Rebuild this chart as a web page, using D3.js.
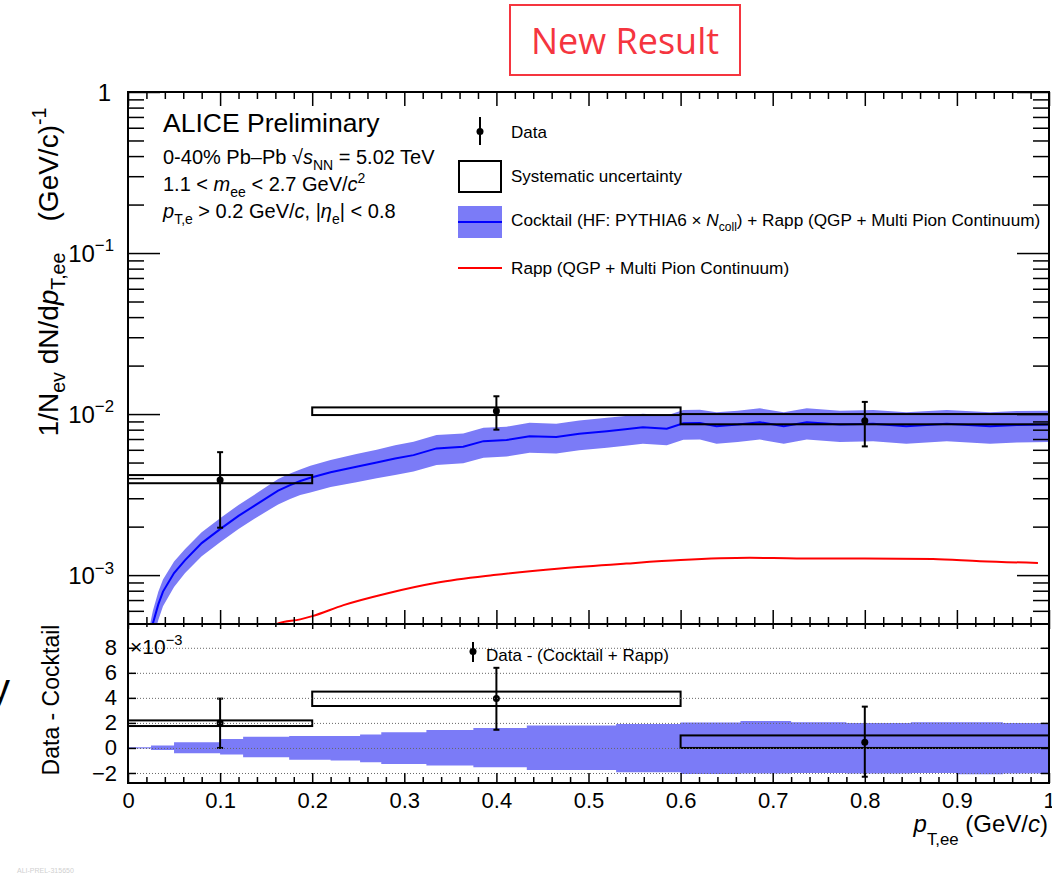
<!DOCTYPE html>
<html><head><meta charset="utf-8">
<script src="https://cdn.jsdelivr.net/npm/d3@7"></script>
<style>body{margin:0;background:#fff;} svg{display:block;}</style>
</head><body>
<script>
// ---------------- DATA ----------------
const xTickMajor = [0,0.1,0.2,0.3,0.4,0.5,0.6,0.7,0.8,0.9,1];
const yTopMajor = [1e-3,1e-2,1e-1,1];
const yTopLabels = [["10","−3"],["10","−2"],["10","−1"],["1",""]];
const yBotMajor = [-2,0,2,4,6,8];
const yBotLabels = ["−2","0","2","4","6","8"];

// Data (top panel)
const dataX = [0.1, 0.4, 0.8];
const dataY = [3.9e-3, 1.045e-2, 9.1e-3];
const dataErrLo = [1.97e-3, 8.0e-3, 6.3e-3];
const dataErrHi = [5.8e-3, 1.29e-2, 1.19e-2];
const sysXLo = [0.0, 0.2, 0.6];
const sysXHi = [0.2, 0.6, 1.0];
const sysYLo = [3.72e-3, 9.86e-3, 8.64e-3];
const sysYHi = [4.18e-3, 1.10e-2, 1.0e-2];

// Cocktail + Rapp
const cocktailX = [0.020,0.027,0.033,0.038,0.05,0.062,0.08,0.1,0.12,0.14,0.163,0.176,0.187,0.198,0.22,0.248,0.27,0.29,0.31,0.335,0.364,0.386,0.411,0.436,0.465,0.49,0.52,0.54,0.559,0.585,0.603,0.621,0.639,0.662,0.686,0.712,0.737,0.773,0.809,0.845,0.889,0.936,0.965,1.0];
const cocktailY = [3.2e-4,5.0e-4,6.6e-4,7.9e-4,1.03e-3,1.24e-3,1.58e-3,1.93e-3,2.33e-3,2.76e-3,3.35e-3,3.62e-3,3.84e-3,4.02e-3,4.35e-3,4.71e-3,5.0e-3,5.3e-3,5.56e-3,6.12e-3,6.26e-3,6.79e-3,6.9e-3,7.29e-3,7.2e-3,7.55e-3,7.83e-3,8.05e-3,8.29e-3,8.1e-3,8.77e-3,8.8e-3,8.4e-3,8.6e-3,8.9e-3,8.4e-3,8.9e-3,8.6e-3,8.7e-3,8.4e-3,8.7e-3,8.4e-3,8.55e-3,8.6e-3];
const cocktailRelErr = [0.2,0.2,0.2,0.19,0.18,0.17,0.17,0.17,0.17,0.17,0.18,0.18,0.18,0.19,0.19,0.2,0.2,0.21,0.21,0.21,0.21,0.21,0.21,0.21,0.21,0.21,0.21,0.21,0.21,0.21,0.21,0.21,0.22,0.22,0.22,0.22,0.22,0.22,0.22,0.22,0.22,0.22,0.22,0.22];

// Rapp (QGP + Multi Pion Continuum)
const rappX = [0.15,0.163,0.187,0.2,0.234,0.281,0.335,0.397,0.469,0.541,0.6,0.675,0.726,0.8,0.874,0.925,0.988];
const rappY = [4.6e-4,5.01e-4,5.31e-4,5.56e-4,6.51e-4,7.69e-4,8.96e-4,1.0e-3,1.10e-3,1.18e-3,1.24e-3,1.28e-3,1.27e-3,1.27e-3,1.26e-3,1.22e-3,1.19e-3];

// Bottom panel (units of 10^-3)
const diffY = [2.0, 3.95, 0.45];
const diffErrLo = [0.0, 1.45, -2.3];
const diffErrHi = [3.94, 6.4, 3.3];
const diffSysLo = [1.75, 3.35, 0.0];
const diffSysHi = [2.2, 4.5, 1.0];
const bandEdges = [0,0.025,0.05,0.1,0.125,0.175,0.22,0.252,0.275,0.324,0.375,0.433,0.53,0.6,0.665,0.72,0.78,0.85,0.9,0.95,1.0];
const bandUp   = [0.05,0.19,0.45,0.72,0.9,0.95,0.95,1.07,1.25,1.44,1.6,1.79,1.92,2.03,2.15,2.05,2.0,2.05,2.05,2.0];
const bandDown = [0.05,0.16,0.43,0.53,0.75,0.95,1.0,1.15,1.28,1.41,1.55,1.76,1.95,2.08,2.05,2.0,2.05,2.0,2.1,2.05];

// ---------------- SETUP ----------------
const W = 1052, H = 874;
const L = 128, R = 1049, T1 = 92, B1 = 624, B2 = 783;
const BAND = "#7b7bf7", BLUE = "#0000ff", RED = "#ff0000";
const svg = d3.select("body").append("svg").attr("width", W).attr("height", H)
  .style("font-family", '"Liberation Sans", Arial, Helvetica, sans-serif');
svg.append("rect").attr("width", W).attr("height", H).attr("fill", "#fff");

const x = d3.scaleLinear().domain([0, 1]).range([L, R]);
const yTop = d3.scaleLog().domain([4.97e-4, 1]).range([B1, T1]);
const yBot = d3.scaleLinear().domain([-2.8, 9.9]).range([B2, B1]);

function richText(g, px, py, parts, size, anchor, subF) {
  subF = subF || 0.3;
  const t = g.append("text").attr("x", px).attr("y", py).attr("font-size", size)
    .attr("text-anchor", anchor || "start").attr("fill", "#000");
  let shift = 0;
  parts.forEach(p => {
    const s = t.append("tspan").text(p.t);
    const target = p.sub ? size * subF : (p.sup ? -size * 0.42 : 0);
    if (target - shift !== 0) s.attr("dy", target - shift);
    shift = target;
    if (p.sub || p.sup) s.attr("font-size", size * 0.7);
    if (p.i) s.attr("font-style", "italic");
  });
  return t;
}

// ---------------- NEW RESULT ----------------
svg.append("rect").attr("x", 510).attr("y", 5).attr("width", 230).attr("height", 70)
  .attr("fill", "none").attr("stroke", "#f5353f").attr("stroke-width", 2);
svg.append("text").attr("x", 625).attr("y", 54).attr("text-anchor", "middle")
  .attr("font-family", '"Open Sans", sans-serif').attr("font-size", 36).attr("fill", "#f5353f")
  .text("New Result");

// ---------------- TOP PANEL ----------------
const defs = svg.append("defs");
defs.append("clipPath").attr("id", "clipTop").append("rect").attr("x", L).attr("y", T1).attr("width", R - L).attr("height", B1 - T1);
defs.append("clipPath").attr("id", "clipBot").append("rect").attr("x", L).attr("y", B1).attr("width", R - L).attr("height", B2 - B1);

const topG = svg.append("g");
const topC = topG.append("g").attr("clip-path", "url(#clipTop)");
const cocktail = cocktailX.map((v, i) => ({ x: v, y: cocktailY[i], e: cocktailRelErr[i] }));
topC.append("path").datum(cocktail)
  .attr("d", d3.area().x(d => x(d.x)).y0(d => yTop(d.y * (1 - d.e))).y1(d => yTop(d.y * (1 + d.e))))
  .attr("fill", BAND);
topC.append("path").datum(cocktail)
  .attr("d", d3.line().x(d => x(d.x)).y(d => yTop(d.y)))
  .attr("fill", "none").attr("stroke", BLUE).attr("stroke-width", 2);
const rapp = rappX.map((v, i) => ({ x: v, y: rappY[i] }));
topC.append("path").datum(rapp)
  .attr("d", d3.line().x(d => x(d.x)).y(d => yTop(d.y)).curve(d3.curveMonotoneX))
  .attr("fill", "none").attr("stroke", RED).attr("stroke-width", 2);

// systematic boxes
sysXLo.forEach((v, i) => {
  topC.append("rect").attr("x", x(v)).attr("y", yTop(sysYHi[i]))
    .attr("width", x(sysXHi[i]) - x(v)).attr("height", yTop(sysYLo[i]) - yTop(sysYHi[i]))
    .attr("fill", "none").attr("stroke", "#000").attr("stroke-width", 2);
});
// data points
function drawPoint(g, px, py, pLo, pHi, caps) {
  g.append("line").attr("x1", px).attr("x2", px).attr("y1", pLo).attr("y2", pHi).attr("stroke", "#000").attr("stroke-width", 2);
  if (caps) [pLo, pHi].forEach(yy => g.append("line").attr("x1", px - 3).attr("x2", px + 3).attr("y1", yy).attr("y2", yy).attr("stroke", "#000").attr("stroke-width", 2));
  g.append("circle").attr("cx", px).attr("cy", py).attr("r", 3.5).attr("fill", "#000");
}
dataX.forEach((v, i) => drawPoint(topC, x(v), yTop(dataY[i]), yTop(dataErrLo[i]), yTop(dataErrHi[i]), true));

// axes top panel
const xMinor = d3.range(0, 1.0001, 0.02).filter(v => Math.abs(v * 10 - Math.round(v * 10)) > 1e-6);
const yMinor = [];
[-4, -3, -2, -1].forEach(e => { for (let k = 2; k <= 9; k++) { const v = k * Math.pow(10, e); if (v > 4.97e-4 && v < 1) yMinor.push(v); } });

function addAxis(g, axis, tx, ty) {
  const a = g.append("g").attr("transform", `translate(${tx},${ty})`).call(axis);
  a.select(".domain").remove();
  a.selectAll("line").attr("stroke", "#000").attr("stroke-width", 1.5);
  a.selectAll("text").remove();
  return a;
}
addAxis(topG, d3.axisBottom(x).tickValues(xTickMajor).tickSize(-14), 0, B1);
addAxis(topG, d3.axisBottom(x).tickValues(xMinor).tickSize(-7), 0, B1);
addAxis(topG, d3.axisTop(x).tickValues(xTickMajor).tickSize(-14), 0, T1);
addAxis(topG, d3.axisTop(x).tickValues(xMinor).tickSize(-7), 0, T1);
addAxis(topG, d3.axisLeft(yTop).tickValues(yTopMajor).tickSize(-32), L, 0);
addAxis(topG, d3.axisLeft(yTop).tickValues(yMinor).tickSize(-16), L, 0);
addAxis(topG, d3.axisRight(yTop).tickValues(yTopMajor).tickSize(-32), R, 0);
addAxis(topG, d3.axisRight(yTop).tickValues(yMinor).tickSize(-16), R, 0);
topG.append("rect").attr("x", L).attr("y", T1).attr("width", R - L).attr("height", B1 - T1)
  .attr("fill", "none").attr("stroke", "#000").attr("stroke-width", 2);

// log tick labels
yTopMajor.forEach((v, i) => {
  const lab = yTopLabels[i];
  const parts = lab[1] ? [{ t: lab[0] }, { t: lab[1], sup: 1 }] : [{ t: lab[0] }];
  richText(svg, lab[1] ? 114 : 111, yTop(v) + 8.5, parts, 24, "end");
});

// y title top
const yt = svg.append("g").attr("transform", "translate(58,272) rotate(-90)");
richText(yt, 0, 0, [{ t: "1/N" }, { t: "ev", sub: 1 }, { t: " dN/d" }, { t: "p", i: 1 }, { t: "T,ee", sub: 1 }, { t: "\u00a0\u00a0\u00a0\u00a0(GeV/" }, { t: "c" }, { t: ")" }, { t: "-1", sup: 1 }], 28, "middle", 0.24);

// ALICE text block
svg.append("text").attr("x", 163).attr("y", 132).attr("font-size", 26.5).text("ALICE Preliminary");
richText(svg, 163, 164, [{ t: "0-40% Pb–Pb " }, { t: "√" }, { t: "s", i: 1 }, { t: "NN", sub: 1 }, { t: " = 5.02 TeV" }], 20, "start");
richText(svg, 163, 191, [{ t: "1.1 < " }, { t: "m", i: 1 }, { t: "ee", sub: 1 }, { t: " < 2.7 GeV/" }, { t: "c", i: 1 }, { t: "2", sup: 1 }], 20, "start");
richText(svg, 163, 218, [{ t: "p", i: 1 }, { t: "T,e", sub: 1 }, { t: " > 0.2 GeV/" }, { t: "c", i: 1 }, { t: ", |" }, { t: "η", i: 1 }, { t: "e", sub: 1 }, { t: "| < 0.8" }], 20, "start");

// Legend
drawPoint(svg, 480, 131.5, 145, 117, false);
svg.append("text").attr("x", 511).attr("y", 137.5).attr("font-size", 17).text("Data");
svg.append("rect").attr("x", 459).attr("y", 161).attr("width", 42).attr("height", 31).attr("fill", "none").attr("stroke", "#000").attr("stroke-width", 2);
svg.append("text").attr("x", 511).attr("y", 182).attr("font-size", 17).text("Systematic uncertainty");
svg.append("rect").attr("x", 458).attr("y", 206).attr("width", 44).attr("height", 32).attr("fill", BAND);
svg.append("line").attr("x1", 458).attr("x2", 502).attr("y1", 222).attr("y2", 222).attr("stroke", BLUE).attr("stroke-width", 2);
richText(svg, 511, 226, [{ t: "Cocktail (HF: PYTHIA6 × " }, { t: "N", i: 1 }, { t: "coll", sub: 1 }, { t: ") + Rapp (QGP + Multi Pion Continuum)" }], 17.2, "start");
svg.append("line").attr("x1", 458).attr("x2", 502).attr("y1", 268).attr("y2", 268).attr("stroke", RED).attr("stroke-width", 2);
svg.append("text").attr("x", 511).attr("y", 274).attr("font-size", 17.2).text("Rapp (QGP + Multi Pion Continuum)");

// ---------------- BOTTOM PANEL ----------------
const bot = svg.append("g");
const botC = bot.append("g").attr("clip-path", "url(#clipBot)");
const bandPts = bandEdges.map((e, i) => ({ x: e, up: bandUp[Math.min(i, bandUp.length - 1)], dn: bandDown[Math.min(i, bandDown.length - 1)] }));
botC.append("path").datum(bandPts)
  .attr("d", d3.area().x(d => x(d.x)).y0(d => yBot(-d.dn)).y1(d => yBot(d.up)).curve(d3.curveStepAfter))
  .attr("fill", BAND);
// grid
const grid = bot.append("g").attr("transform", `translate(${L},0)`)
  .call(d3.axisLeft(yBot).tickValues(yBotMajor).tickSize(-(R - L)).tickFormat(""));
grid.select(".domain").remove();
grid.selectAll("line").attr("stroke", "#666").attr("stroke-width", 1).attr("stroke-dasharray", "1,2");
grid.selectAll("text").remove();

diffSysLo.forEach((v, i) => {
  botC.append("rect").attr("x", x(sysXLo[i])).attr("y", yBot(diffSysHi[i]))
    .attr("width", x(sysXHi[i]) - x(sysXLo[i])).attr("height", yBot(v) - yBot(diffSysHi[i]))
    .attr("fill", "none").attr("stroke", "#000").attr("stroke-width", 2);
});
dataX.forEach((v, i) => drawPoint(botC, x(v), yBot(diffY[i]), yBot(diffErrLo[i]), yBot(diffErrHi[i]), true));

// axes bottom panel
const xa = bot.append("g").attr("transform", `translate(0,${B2})`)
  .call(d3.axisBottom(x).tickValues(xTickMajor).tickSize(-10).tickPadding(9)
    .tickFormat(d => d === 0 ? "0" : d === 1 ? "1" : d.toFixed(1)));
xa.select(".domain").remove();
xa.selectAll("line").attr("stroke", "#000").attr("stroke-width", 1.5);
xa.selectAll("text").attr("font-size", 22).attr("fill", "#000").attr("font-family", '"Liberation Sans", Arial, sans-serif');
addAxis(bot, d3.axisBottom(x).tickValues(xMinor).tickSize(-6), 0, B2);
addAxis(bot, d3.axisTop(x).tickValues(xTickMajor).tickSize(-5), 0, B1);
addAxis(bot, d3.axisTop(x).tickValues(xMinor).tickSize(-3), 0, B1);
const ya = bot.append("g").attr("transform", `translate(${L},0)`)
  .call(d3.axisLeft(yBot).tickValues(yBotMajor).tickSize(-8).tickPadding(11).tickFormat((d, i) => yBotLabels[i]));
ya.select(".domain").remove();
ya.selectAll("line").attr("stroke", "#000").attr("stroke-width", 1.5);
ya.selectAll("text").attr("font-size", 22).attr("fill", "#000").attr("font-family", '"Liberation Sans", Arial, sans-serif');
addAxis(bot, d3.axisRight(yBot).tickValues(yBotMajor).tickSize(-8), R, 0);
bot.append("rect").attr("x", L).attr("y", B1).attr("width", R - L).attr("height", B2 - B1)
  .attr("fill", "none").attr("stroke", "#000").attr("stroke-width", 2);

richText(svg, 130, 654, [{ t: "×10" }, { t: "−3", sup: 1 }], 21, "start");
drawPoint(svg, 473, 651.5, 662, 642, false);
svg.append("text").attr("x", 486).attr("y", 661).attr("font-size", 17).text("Data - (Cocktail + Rapp)");

const yb = svg.append("g").attr("transform", "translate(59,700) rotate(-90)");
yb.append("text").attr("x", 0).attr("y", 0).attr("text-anchor", "middle").attr("font-size", 23).text("Data - Cocktail");

// x title
richText(svg, 1048, 832, [{ t: "p", i: 1 }, { t: "T,ee", sub: 1 }, { t: " (GeV/" }, { t: "c", i: 1 }, { t: ")" }], 24, "end", 0.55);

// slide artefacts
svg.append("text").attr("x", -10).attr("y", 702).attr("font-size", 40).text("y");
svg.append("text").attr("x", 17).attr("y", 873).attr("font-size", 7).attr("fill", "#d0d0d0").text("ALI-PREL-315650");
</script>
</body></html>
